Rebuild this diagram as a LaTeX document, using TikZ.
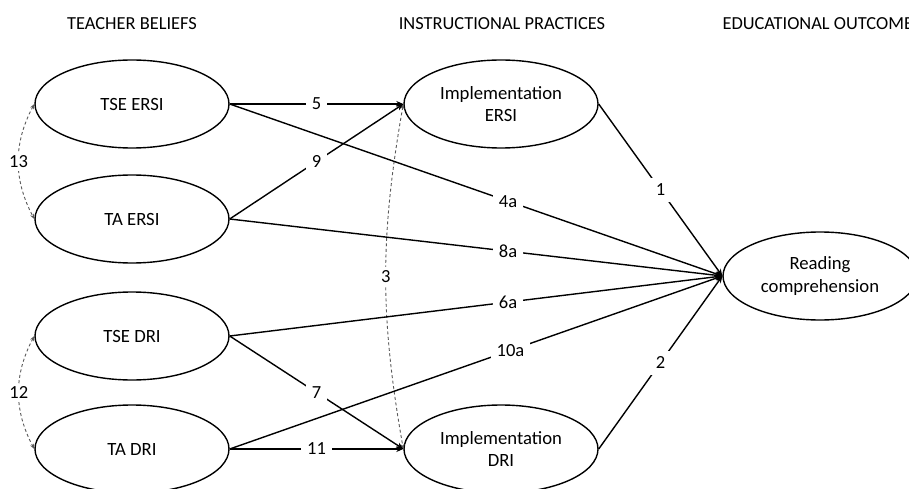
\documentclass[tikz,border=0pt]{standalone}
\usepackage{fontspec}
\setmainfont{Carlito}
\usetikzlibrary{shapes.geometric,arrows.meta}
\begin{document}
\begin{tikzpicture}[x=1pt,y=-1pt,
 lat/.style={ellipse,draw,line width=1.4pt,minimum width=194pt,minimum height=88pt,inner sep=0pt,align=center,font=\fontsize{18.7}{22.5}\selectfont},
 hdr/.style={font=\fontsize{18.4}{22}\selectfont,anchor=base},
 arr/.style={line width=1.4pt,-{Stealth[length=7pt,width=6pt]}},
 lbl/.style={fill=white,text=black,inner sep=6pt,font=\fontsize{18.5}{22}\selectfont},
 cov/.style={dashed,dash pattern=on 3pt off 2.5pt,black!65,line width=0.9pt,{Stealth[length=5pt,width=4pt]}-{Stealth[length=5pt,width=4pt]}}
]
\useasboundingbox (0,0) rectangle (909,489);
\clip (0,0) rectangle (909,489);
\fill[white] (0,0) rectangle (909,489);
% headers
\node[hdr] (h1) at (132,30) {TEACHER BELIEFS};
\node[hdr] (h2) at (502,30) {INSTRUCTIONAL PRACTICES};
\node[hdr,anchor=base west] (h3) at (719,30) {EDUCATIONAL OUTCOME};
% latent nodes
\node[lat] (tseersi) at (132,104) {TSE ERSI};
\node[lat] (taersi) at (132,219) {TA ERSI};
\node[lat] (tsedri) at (132,336) {TSE DRI};
\node[lat] (tadri) at (132,449) {TA DRI};
\node[lat] (impersi) at (501,104) {Implementation\\ERSI};
\node[lat] (impdri) at (501,449) {Implementation\\DRI};
\node[lat] (read) at (820,276) {Reading\\comprehension};
% covariances
\draw[cov] (tseersi.west) to[bend right=28] node[lbl,inner sep=3pt,midway] {13} (taersi.west);
\draw[cov] (tsedri.west) to[bend right=28] node[lbl,inner sep=3pt,midway] {12} (tadri.west);
\draw[cov] (impersi.west) to[bend right=10] node[lbl,inner sep=3pt,pos=0.5] {3} (impdri.west);
% paths
\draw[arr] (tseersi.east) -- node[lbl] {5} (impersi.west);
\draw[arr] (taersi.east) -- node[lbl] {9} (impersi.west);
\draw[arr] (tsedri.east) -- node[lbl] {7} (impdri.west);
\draw[arr] (tadri.east) -- node[lbl] {11} (impdri.west);
\draw[arr] (tseersi.east) -- node[lbl,pos=0.565] {4a} (read.west);
\draw[arr] (taersi.east) -- node[lbl,pos=0.565] {8a} (read.west);
\draw[arr] (tsedri.east) -- node[lbl,pos=0.565] {6a} (read.west);
\draw[arr] (tadri.east) -- node[lbl,pos=0.57] {10a} (read.west);
\draw[arr] (impersi.east) -- node[lbl] {1} (read.west);
\draw[arr] (impdri.east) -- node[lbl] {2} (read.west);
\end{tikzpicture}
\end{document}
